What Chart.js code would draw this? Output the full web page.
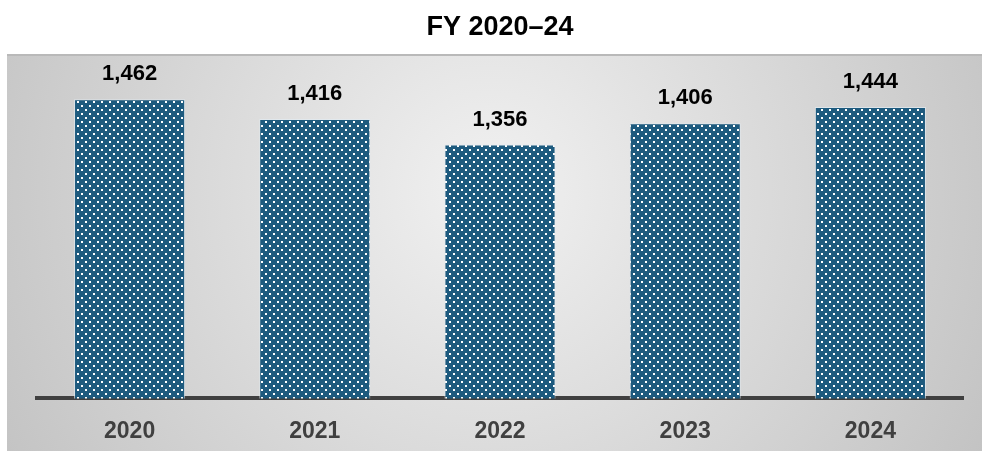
<!DOCTYPE html>
<html lang="en">
<head>
    <meta charset="UTF-8">
    <title>FY 2020–24</title>
    <style>
        html, body { margin: 0; padding: 0; background: #ffffff; overflow: hidden; }
        #chart { display: block; }
    </style>
</head>
<body>
    <canvas id="chart" width="982" height="451"></canvas>

    <script src="https://cdn.jsdelivr.net/npm/chart.js"></script>
    <script>
        var years = ['2020', '2021', '2022', '2023', '2024'];
        var totals = [1462, 1416, 1356, 1406, 1444];
        var chartTitle = 'FY 2020–24';

        var FONT = '"Liberation Sans", Arial, Helvetica, sans-serif';

        // dotted fill: blue tile with staggered white dots
        function dotPattern() {
            var c = document.createElement('canvas');
            c.width = 8;
            c.height = 8;
            var g = c.getContext('2d');
            g.fillStyle = '#1d5a7e';
            g.fillRect(0, 0, 8, 8);
            g.fillStyle = '#ffffff';
            g.fillRect(1, 1, 2, 2);
            g.fillRect(5, 5, 2, 2);
            return g.createPattern(c, 'repeat');
        }

        // grey shaded panel behind the plot
        var panelBackground = {
            id: 'panelBackground',
            beforeDraw: function(chart) {
                var ctx = chart.ctx;
                var x0 = 7, y0 = 54, x1 = chart.width, y1 = chart.height;
                ctx.save();
                var grad = ctx.createRadialGradient(490, 190, 0, 490, 190, 560);
                grad.addColorStop(0, '#f1f1f1');
                grad.addColorStop(1, '#c3c3c3');
                ctx.fillStyle = grad;
                ctx.fillRect(x0, y0, x1 - x0, y1 - y0);
                ctx.fillStyle = '#b9b9b9';
                ctx.fillRect(x0, y0, x1 - x0, 2);
                ctx.restore();
            }
        };

        // value labels above each bar
        var valueLabels = {
            id: 'valueLabels',
            afterDatasetsDraw: function(chart) {
                var ctx = chart.ctx;
                var meta = chart.getDatasetMeta(0);
                ctx.save();
                ctx.font = 'bold 22px ' + FONT;
                ctx.fillStyle = '#000000';
                ctx.textAlign = 'center';
                ctx.textBaseline = 'middle';
                meta.data.forEach(function(bar, i) {
                    ctx.fillText(totals[i].toLocaleString('en-US'), bar.x, bar.y - 25);
                });
                ctx.restore();
            }
        };

        var ctx = document.getElementById('chart').getContext('2d');
        new Chart(ctx, {
            type: 'bar',
            data: {
                labels: years,
                datasets: [{
                    data: totals,
                    backgroundColor: dotPattern(),
                    borderColor: 'rgba(225, 235, 242, 0.7)',
                    borderWidth: 1,
                    borderSkipped: 'bottom',
                    categoryPercentage: 0.6,
                    barPercentage: 1.0
                }]
            },
            options: {
                responsive: false,
                animation: false,
                devicePixelRatio: 1,
                layout: {
                    padding: { left: 37, right: 19, top: 0, bottom: -13 }
                },
                plugins: {
                    legend: { display: false },
                    tooltip: { enabled: false },
                    title: {
                        display: true,
                        text: chartTitle,
                        color: '#000000',
                        font: { family: FONT, size: 27, weight: 'bold' },
                        padding: { top: 11, bottom: 27 }
                    }
                },
                scales: {
                    x: {
                        grid: { display: false, drawTicks: false },
                        border: { display: true, color: '#404040', width: 4 },
                        ticks: {
                            color: '#404040',
                            padding: 19,
                            maxRotation: 0,
                            font: { family: FONT, size: 23, weight: 'bold' }
                        }
                    },
                    y: {
                        display: false,
                        min: 760,
                        max: 1530
                    }
                }
            },
            plugins: [panelBackground, valueLabels]
        });
    </script>
</body>
</html>
